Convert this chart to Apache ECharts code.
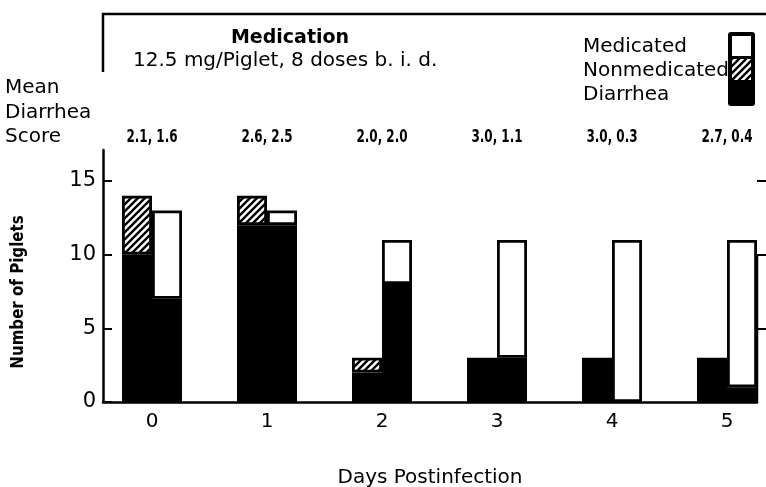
<!DOCTYPE html>
<html><head><meta charset="utf-8">
<script src="https://cdn.jsdelivr.net/npm/echarts@6/dist/echarts.min.js"></script>
<style>html,body{margin:0;padding:0;background:#fff}#c{width:766px;height:487px}</style>
</head><body><div id="c"></div>
<script>
// ---- data ----
const days = ['0', '1', '2', '3', '4', '5'];
const scores = ['2.1, 1.6', '2.6, 2.5', '2.0, 2.0', '3.0, 1.1', '3.0, 0.3', '2.7, 0.4'];
const nonmedDiarrhea = [10, 12, 2, 3, 3, 3];
const nonmedNoDiarrhea = [4, 2, 1, 0, 0, 0];
const medDiarrhea = [7, 12, 8, 3, 0, 1];
const medNoDiarrhea = [6, 1, 3, 8, 11, 10];
const yTicks = [0, 5, 10, 15];
const rightTicks = [5, 10, 15];
const yMax = 17.1;

// ---- styling ----
const FONT = '"DejaVu Sans", sans-serif';
const NARROW = '"DejaVu Sans Condensed", "Liberation Sans Narrow", sans-serif';

function hatch() {
  const s = 7;
  const c = document.createElement('canvas');
  c.width = s; c.height = s;
  const g = c.getContext('2d');
  g.fillStyle = '#fff'; g.fillRect(0, 0, s, s);
  g.strokeStyle = '#000'; g.lineWidth = 2.4;
  g.beginPath();
  g.moveTo(-1, s + 1); g.lineTo(s + 1, -1);
  g.moveTo(-1, 1); g.lineTo(1, -1);
  g.moveTo(s - 1, s + 1); g.lineTo(s + 1, s - 1);
  g.stroke();
  return { image: c, repeat: 'repeat' };
}
const HATCH = hatch();
const nz = a => a.map(v => v === 0 ? '-' : v);

const chart = echarts.init(document.getElementById('c'), null, { renderer: 'canvas' });
const gridTop = 150, gridBottom = 85;
const barStyle = (fill) => ({ color: fill, borderColor: '#000', borderWidth: 2.8 });

const option = {
  animation: false,
  backgroundColor: '#fff',
  grid: [
    { left: 94.5, width: 690, top: gridTop, bottom: gridBottom, outerBoundsMode: 'none', containLabel: false },
    { left: 103, right: 9, top: gridTop, bottom: gridBottom, outerBoundsMode: 'none', containLabel: false }
  ],
  xAxis: [
    { gridIndex: 0, type: 'category', data: days, boundaryGap: true,
      axisLine: { show: false }, axisTick: { show: false },
      axisLabel: { fontFamily: FONT, fontSize: 20, color: '#000', margin: 10 } },
    { gridIndex: 1, type: 'value', min: 0, max: 1,
      axisLine: { show: true, lineStyle: { color: '#000', width: 2.5 } },
      axisTick: { show: false }, axisLabel: { show: false }, splitLine: { show: false },
      name: 'Days Postinfection', nameLocation: 'middle', nameGap: 66,
      nameTextStyle: { fontFamily: FONT, fontSize: 20, color: '#000' } }
  ],
  yAxis: [
    { gridIndex: 0, type: 'value', min: 0, max: yMax, show: false, splitLine: { show: false } },
    { gridIndex: 1, type: 'value', min: 0, max: yMax, position: 'left',
      axisLine: { show: true, lineStyle: { color: '#000', width: 2.5 } },
      axisTick: { show: true, inside: true, length: 9, customValues: yTicks, lineStyle: { color: '#000', width: 2 } },
      axisLabel: { customValues: yTicks, fontFamily: FONT, fontSize: 21, color: '#000', margin: 7 },
      splitLine: { show: false } },
    { gridIndex: 1, type: 'value', min: 0, max: yMax, position: 'right',
      axisLine: { show: false },
      axisTick: { show: true, inside: false, length: 9, customValues: rightTicks, lineStyle: { color: '#000', width: 2 } },
      axisLabel: { show: false }, splitLine: { show: false } }
  ],
  series: [
    { name: 'Nonmedicated diarrhea', type: 'bar', xAxisIndex: 0, yAxisIndex: 0, stack: 'non',
      data: nz(nonmedDiarrhea), barWidth: 30, barGap: '0%', itemStyle: barStyle('#000') },
    { name: 'Nonmedicated', type: 'bar', xAxisIndex: 0, yAxisIndex: 0, stack: 'non',
      data: nz(nonmedNoDiarrhea), barWidth: 30, barGap: '0%', itemStyle: barStyle(HATCH) },
    { name: 'Medicated diarrhea', type: 'bar', xAxisIndex: 0, yAxisIndex: 0, stack: 'med',
      data: nz(medDiarrhea), barWidth: 30, barGap: '0%', itemStyle: barStyle('#000') },
    { name: 'Medicated', type: 'bar', xAxisIndex: 0, yAxisIndex: 0, stack: 'med',
      data: nz(medNoDiarrhea), barWidth: 30, barGap: '0%', itemStyle: barStyle('#fff') }
  ]
};
chart.setOption(option);

// decorations: header frame, texts, legend box, right axis line (partial), y-axis title, score row
const p0 = chart.convertToPixel({ gridIndex: 1 }, [1, 0]);
const p10 = chart.convertToPixel({ gridIndex: 1 }, [1, 10]);
const txt = (x, y, t, opts) => ({ type: 'text', x, y, style: Object.assign({ text: t, fill: '#000', font: '20px ' + FONT, textVerticalAlign: 'middle' }, opts || {}) });
const scoreTexts = scores.map((s, i) => ({
  type: 'text', x: chart.convertToPixel({ xAxisIndex: 0 }, days[i]), y: 137, scaleX: 0.74,
  style: { text: s, fill: '#000', font: 'bold 18px ' + NARROW, textAlign: 'center', textVerticalAlign: 'middle' }
}));
chart.setOption({
  graphic: [
    { type: 'polyline', shape: { points: [[103, 72], [103, 14], [766, 14]] }, style: { stroke: '#000', lineWidth: 2.5, fill: null } },
    { type: 'line', shape: { x1: p0[0], y1: p0[1], x2: p10[0], y2: p10[1] }, style: { stroke: '#000', lineWidth: 2.5 } },
    txt(290, 38, 'Medication', { font: 'bold 19px ' + FONT, textAlign: 'center' }),
    txt(133, 61, '12.5 mg/Piglet, 8 doses b. i. d.'),
    txt(583, 47, 'Medicated'),
    txt(583, 71, 'Nonmedicated'),
    txt(583, 95, 'Diarrhea'),
    txt(5, 88, 'Mean'),
    txt(5, 113, 'Diarrhea'),
    txt(5, 137, 'Score'),
    { type: 'text', x: 18, y: 292, rotation: Math.PI / 2, scaleX: 0.93,
      style: { text: 'Number of Piglets', fill: '#000', font: 'bold 18px ' + NARROW, textAlign: 'center', textVerticalAlign: 'middle' } },
    { type: 'rect', shape: { x: 728, y: 32, width: 27, height: 74, r: 3 }, style: { fill: '#000' } },
    { type: 'rect', shape: { x: 732, y: 36, width: 19, height: 20 }, style: { fill: '#fff' } },
    { type: 'rect', shape: { x: 732, y: 59, width: 19, height: 21 }, style: { fill: HATCH } }
  ].concat(scoreTexts)
});
</script></body></html>
